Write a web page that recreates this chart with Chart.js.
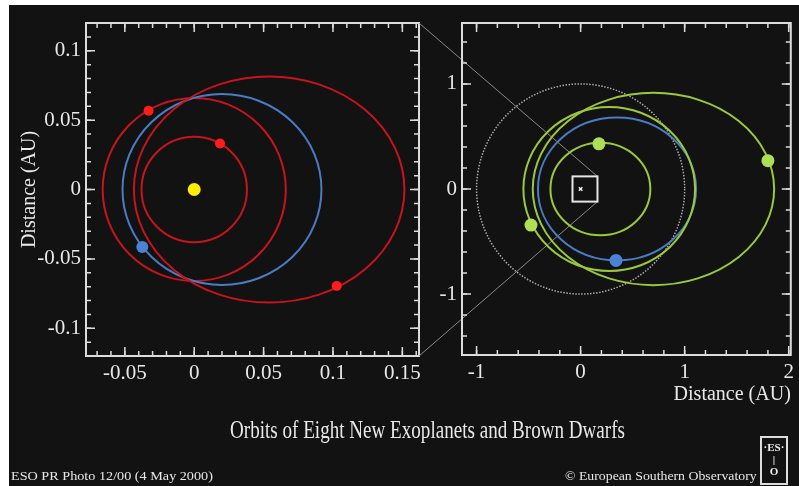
<!DOCTYPE html>
<html>
<head>
<meta charset="utf-8">
<title>Orbits of Eight New Exoplanets and Brown Dwarfs</title>
<script src="https://cdn.jsdelivr.net/npm/chart.js@4.4.1/dist/chart.umd.min.js"></script>
<style>
  body { margin: 0; width: 799px; height: 486px; overflow: hidden; position: relative; background: #fff; font-family: 'Liberation Serif', serif; }
  #panel { position: absolute; left: 9px; top: 5px; width: 790px; height: 481px; background: #121212; }
  canvas { position: absolute; left: 0; top: 0; }
  .txt { position: absolute; color: #e8e8e8; white-space: nowrap; transform-origin: left center; }
  #title { left: 230px; top: 417px; font-size: 26px; line-height: 26px; }
  #credit { left: 11px; top: 469px; font-size: 13px; line-height: 13px; }
  #copy { left: 565px; top: 469px; font-size: 13px; line-height: 13px; }
  #logo { position: absolute; left: 760px; top: 436px; width: 24px; height: 42px; border: 2px solid #ddd; color: #eee;
          font: bold 11px/12px 'Liberation Serif', serif; text-align: center; padding-top: 3px; }
</style>
</head>
<body>
<div id="panel"></div>
<canvas id="leftChart" width="799" height="486"></canvas>
<canvas id="rightChart" width="799" height="486"></canvas>
<div class="txt" id="title">Orbits of Eight New Exoplanets and Brown Dwarfs</div>
<div class="txt" id="credit">ESO PR Photo 12/00 (4 May 2000)</div>
<div class="txt" id="copy">© European Southern Observatory</div>
<div id="logo">·ES·<br>|<br>O</div>
<script>
// left panel: close-in planets (AU)
const leftXTicks = [-0.05, 0, 0.05, 0.1, 0.15];
const leftXTickLabels = ['-0.05', '0', '0.05', '0.1', '0.15'];
const leftYTicks = [-0.1, -0.05, 0, 0.05, 0.1];
const leftYTickLabels = ['-0.1', '-0.05', '0', '0.05', '0.1'];
const leftXMin = -0.078, leftXMax = 0.162;
const leftYMin = -0.12, leftYMax = 0.12;

const leftOrbitCx = [0, 0, 0.020, 0.054];
const leftOrbitCy = [0, 0, 0, 0];
const leftOrbitA = [0.038, 0.066, 0.0717, 0.0975];
const leftOrbitB = [0.038, 0.066, 0.0688, 0.0815];

const starX = [0];
const starY = [0];
const leftRedX = [0.0186, -0.0329, 0.1027];
const leftRedY = [0.0331, 0.0568, -0.0696];
const leftBlueX = [-0.0374];
const leftBlueY = [-0.0415];

// right panel: wider orbits (AU)
const rightXTicks = [-1, 0, 1, 2];
const rightXTickLabels = ['-1', '0', '1', '2'];
const rightYTicks = [-1, 0, 1];
const rightYTickLabels = ['-1', '0', '1'];
const rightXMin = -1.14, rightXMax = 2.02;
const rightYMin = -1.58, rightYMax = 1.58;

// first entry is the Earth orbit for reference
const rightOrbitCx = [0, 0.19, 0.35, 0.275, 0.70];
const rightOrbitCy = [0, 0, 0, 0, 0];
const rightOrbitA = [1.0, 0.48, 0.76, 0.825, 1.16];
const rightOrbitB = [1.0, 0.44, 0.68, 0.78, 0.915];

const rightGreenX = [0.176, -0.477, 1.80];
const rightGreenY = [0.43, -0.343, 0.27];
const rightBlueX = [0.34];
const rightBlueY = [-0.68];

const serif = "'Liberation Serif', serif";
Chart.defaults.color = '#e8e8e8';

function pts(xs, ys) {
    return xs.map((x, i) => ({ x, y: ys[i] }));
}

function drawOrbits(chart, cx, cy, a, b, colors, dashes) {
    const { ctx, chartArea: ca, scales: { x, y } } = chart;
    ctx.save();
    ctx.beginPath();
    ctx.rect(ca.left, ca.top, ca.right - ca.left, ca.bottom - ca.top);
    ctx.clip();
    cx.forEach((c, i) => {
        const px = x.getPixelForValue(c);
        const py = y.getPixelForValue(cy[i]);
        const rx = Math.abs(x.getPixelForValue(c + a[i]) - px);
        const ry = Math.abs(y.getPixelForValue(cy[i] + b[i]) - py);
        ctx.beginPath();
        ctx.setLineDash(dashes[i] || []);
        ctx.strokeStyle = colors[i];
        ctx.lineWidth = dashes[i] ? 1.5 : 2;
        ctx.ellipse(px, py, rx, ry, 0, 0, Math.PI * 2);
        ctx.stroke();
    });
    ctx.restore();
}

// box with inward major/minor ticks on all four sides
function drawFrame(chart, minorX, minorY) {
    const { ctx, chartArea: ca, scales: { x, y } } = chart;
    ctx.save();
    ctx.strokeStyle = '#dcdcdc';
    ctx.lineWidth = 2;
    ctx.strokeRect(ca.left, ca.top, ca.right - ca.left, ca.bottom - ca.top);
    ctx.lineWidth = 1.5;
    const markX = (v, len) => {
        const px = x.getPixelForValue(v);
        ctx.beginPath();
        ctx.moveTo(px, ca.bottom); ctx.lineTo(px, ca.bottom - len);
        ctx.moveTo(px, ca.top); ctx.lineTo(px, ca.top + len);
        ctx.stroke();
    };
    const markY = (v, len) => {
        const py = y.getPixelForValue(v);
        ctx.beginPath();
        ctx.moveTo(ca.left, py); ctx.lineTo(ca.left + len, py);
        ctx.moveTo(ca.right, py); ctx.lineTo(ca.right - len, py);
        ctx.stroke();
    };
    for (let k = Math.ceil(x.min / minorX); k * minorX <= x.max; k++) markX(k * minorX, 5);
    for (let k = Math.ceil(y.min / minorY); k * minorY <= y.max; k++) markY(k * minorY, 5);
    x.ticks.forEach(t => markX(t.value, 9));
    y.ticks.forEach(t => markY(t.value, 9));
    ctx.restore();
}

function axis(min, max, ticks, labels, size, extra) {
    return Object.assign({
        type: 'linear',
        min, max,
        grid: { display: false, drawTicks: false },
        border: { display: false },
        afterBuildTicks: (scale) => { scale.ticks = ticks.map(v => ({ value: v })); },
        ticks: {
            autoSkip: false,
            maxRotation: 0,
            padding: 5,
            font: { family: serif, size: 21 },
            callback: (value, index) => labels[index]
        },
        afterFit: (scale) => {
            if (scale.isHorizontal()) scale.height = size; else scale.width = size;
        }
    }, extra || {});
}

const leftChart = new Chart(document.getElementById('leftChart'), {
    type: 'scatter',
    data: {
        datasets: [{
            label: 'Star',
            data: pts(starX, starY),
            backgroundColor: '#ffee00',
            pointRadius: 6.5,
            borderWidth: 0
        }, {
            label: 'Planets',
            data: pts(leftRedX, leftRedY),
            backgroundColor: '#ff1c1c',
            pointRadius: 5,
            borderWidth: 0
        }, {
            label: 'Brown dwarf',
            data: pts(leftBlueX, leftBlueY),
            backgroundColor: '#4a82d4',
            pointRadius: 6,
            borderWidth: 0
        }]
    },
    options: {
        responsive: false,
        animation: false,
        events: [],
        layout: { padding: { left: 16, top: 23, right: 380, bottom: 90 } },
        plugins: { legend: { display: false }, tooltip: { enabled: false } },
        scales: {
            x: axis(leftXMin, leftXMax, leftXTicks, leftXTickLabels, 40),
            y: axis(leftYMin, leftYMax, leftYTicks, leftYTickLabels, 70, {
                title: {
                    display: true,
                    text: 'Distance (AU)',
                    font: { family: serif, size: 20 },
                    padding: { top: 2, bottom: 0 }
                }
            })
        }
    },
    plugins: [{
        id: 'leftOrbits',
        beforeDatasetsDraw(chart) {
            drawOrbits(chart, leftOrbitCx, leftOrbitCy, leftOrbitA, leftOrbitB,
                ['#c8141c', '#c8141c', '#4a7cc4', '#c8141c'], []);
        },
        afterDatasetsDraw(chart) {
            drawFrame(chart, 0.01, 0.01);
        }
    }]
});

new Chart(document.getElementById('rightChart'), {
    type: 'scatter',
    data: {
        datasets: [{
            label: 'Star',
            data: pts(starX, starY),
            pointStyle: 'crossRot',
            borderColor: '#f0f0f0',
            borderWidth: 1.5,
            pointRadius: 2.5
        }, {
            label: 'Planets',
            data: pts(rightGreenX, rightGreenY),
            backgroundColor: '#aede55',
            pointRadius: 6.5,
            borderWidth: 0
        }, {
            label: 'Brown dwarf',
            data: pts(rightBlueX, rightBlueY),
            backgroundColor: '#4a82d4',
            pointRadius: 6.5,
            borderWidth: 0
        }]
    },
    options: {
        responsive: false,
        animation: false,
        events: [],
        layout: { padding: { left: 432, top: 23, right: 3, bottom: 79 } },
        plugins: { legend: { display: false }, tooltip: { enabled: false } },
        scales: {
            x: axis(rightXMin, rightXMax, rightXTicks, rightXTickLabels, 52, {
                title: {
                    display: true,
                    text: 'Distance (AU)',
                    align: 'end',
                    font: { family: serif, size: 20 },
                    padding: { top: 0, bottom: 0 }
                }
            }),
            y: axis(rightYMin, rightYMax, rightYTicks, rightYTickLabels, 30)
        }
    },
    plugins: [{
        id: 'rightOrbits',
        beforeDatasetsDraw(chart) {
            const { ctx, scales: { x, y } } = chart;
            const lc = leftChart.chartArea;
            const bx0 = x.getPixelForValue(leftXMin), bx1 = x.getPixelForValue(leftXMax);
            const by0 = y.getPixelForValue(leftYMax), by1 = y.getPixelForValue(leftYMin);
            // zoom lines from the left panel to its box
            ctx.save();
            ctx.strokeStyle = '#8a8a8a';
            ctx.lineWidth = 1;
            ctx.beginPath();
            ctx.moveTo(lc.right, lc.top); ctx.lineTo(bx1, by0);
            ctx.moveTo(lc.right, lc.bottom); ctx.lineTo(bx1, by1);
            ctx.stroke();
            ctx.restore();

            drawOrbits(chart, rightOrbitCx, rightOrbitCy, rightOrbitA, rightOrbitB,
                ['#a8a8a8', '#9cc83a', '#4a7cc4', '#9cc83a', '#9cc83a'], [[1.5, 1.5]]);

            ctx.save();
            ctx.strokeStyle = '#e6e6e6';
            ctx.lineWidth = 2;
            ctx.strokeRect(bx0, by0, bx1 - bx0, by1 - by0);
            ctx.restore();
        },
        afterDatasetsDraw(chart) {
            drawFrame(chart, 0.2, 0.2);
        }
    }]
});

// squeeze the caption texts to the widths they have in the photo
function fitWidth(id, width) {
    const el = document.getElementById(id);
    el.style.transform = 'scaleX(' + (width / el.offsetWidth) + ')';
}
fitWidth('title', 395);
fitWidth('credit', 202);
fitWidth('copy', 192);
</script>
</body>
</html>
